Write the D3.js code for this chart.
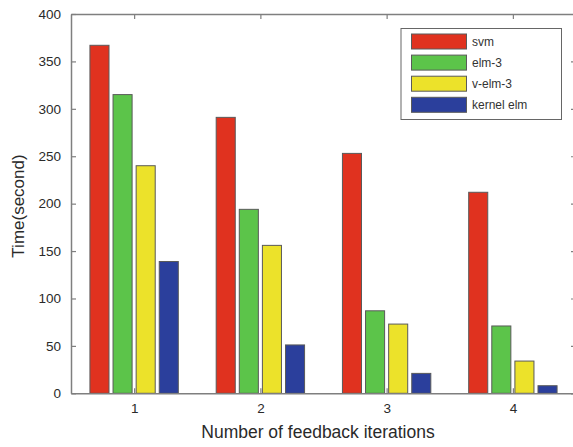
<!DOCTYPE html>
<html><head><meta charset="utf-8">
<script src="https://cdn.jsdelivr.net/npm/d3@7"></script>
<style>body{margin:0;background:#fff}svg{display:block;font-family:"Liberation Sans",Arial,sans-serif}</style>
</head><body>
<svg id="c" width="573" height="447"></svg>
<script>
const categories = [1, 2, 3, 4];
const seriesNames = ["svm", "elm-3", "v-elm-3", "kernel elm"];
const svm = [367, 291, 253, 212];
const elm3 = [315, 194, 87, 71];
const velm3 = [240, 156, 73, 34];
const kernelElm = [139, 51, 21, 8];
const yTicks = [0, 50, 100, 150, 200, 250, 300, 350, 400];
const colors = ["#e0321f", "#5cc44a", "#ece22a", "#2b3f9c"];
const series = [svm, elm3, velm3, kernelElm];

const svg = d3.select("#c");
const L = 71, R = 576, T = 14, B = 393.3;
const x = d3.scaleLinear().domain([0.5, 4.5]).range([L, R]);
const y = d3.scaleLinear().domain([0, 400]).range([B, T]);
const pitch = 0.183, bw = 0.151;

// bars
series.forEach((vals, si) => {
  svg.append("g").selectAll("rect").data(vals).join("rect")
    .attr("x", (d, i) => x(categories[i] + (si - 1.5) * pitch - bw / 2))
    .attr("width", x(1 + bw) - x(1))
    .attr("y", d => y(d))
    .attr("height", d => y(0) - y(d))
    .attr("fill", colors[si])
    .attr("stroke", "#5a5a5a").attr("stroke-width", 1);
});

const axColor = "#7f7f7f";
function styleAxis(g) {
  g.selectAll(".domain").attr("stroke", axColor).attr("stroke-width", 1.5);
  g.selectAll(".tick line").attr("stroke", axColor).attr("stroke-width", 1.2);
  g.selectAll("text").attr("fill", "#2a2a2a").style("font-size", "13.5px");
}
svg.append("g").attr("transform", `translate(0,${B})`)
  .call(d3.axisBottom(x).tickValues(categories).tickSizeInner(-5).tickSizeOuter(0).tickPadding(10).tickFormat(d3.format("d")))
  .call(styleAxis);
svg.append("g").attr("transform", `translate(0,${T})`)
  .call(d3.axisTop(x).tickValues(categories).tickSizeInner(-5).tickSizeOuter(0).tickFormat(""))
  .call(styleAxis);
svg.append("g").attr("transform", `translate(${L},0)`)
  .call(d3.axisLeft(y).tickValues(yTicks).tickSizeInner(-5).tickSizeOuter(0).tickPadding(10))
  .call(styleAxis);
svg.append("g").attr("transform", `translate(${R},0)`)
  .call(d3.axisRight(y).tickValues(yTicks).tickSizeInner(-5).tickSizeOuter(0).tickFormat(""))
  .call(styleAxis);

// labels
svg.append("text").attr("x", 318).attr("y", 438).attr("text-anchor", "middle")
  .attr("fill", "#2a2a2a").style("font-size", "17.5px").text("Number of feedback iterations");
svg.append("text").attr("transform", "translate(24,206) rotate(-90)").attr("text-anchor", "middle")
  .attr("fill", "#2a2a2a").style("font-size", "17px").text("Time(second)");

// legend
const lg = svg.append("g");
lg.append("rect").attr("x", 401).attr("y", 28.5).attr("width", 160.5).attr("height", 91)
  .attr("fill", "#fff").attr("stroke", "#666").attr("stroke-width", 1);
seriesNames.forEach((n, i) => {
  const yy = 34 + i * 21.1;
  lg.append("rect").attr("x", 411.5).attr("y", yy).attr("width", 55).attr("height", 15)
    .attr("fill", colors[i]).attr("stroke", "#5a5a5a").attr("stroke-width", 1);
  lg.append("text").attr("x", 472).attr("y", yy + 11.5).attr("fill", "#333")
    .style("font-size", "12px").text(n);
});
</script>
</body></html>
